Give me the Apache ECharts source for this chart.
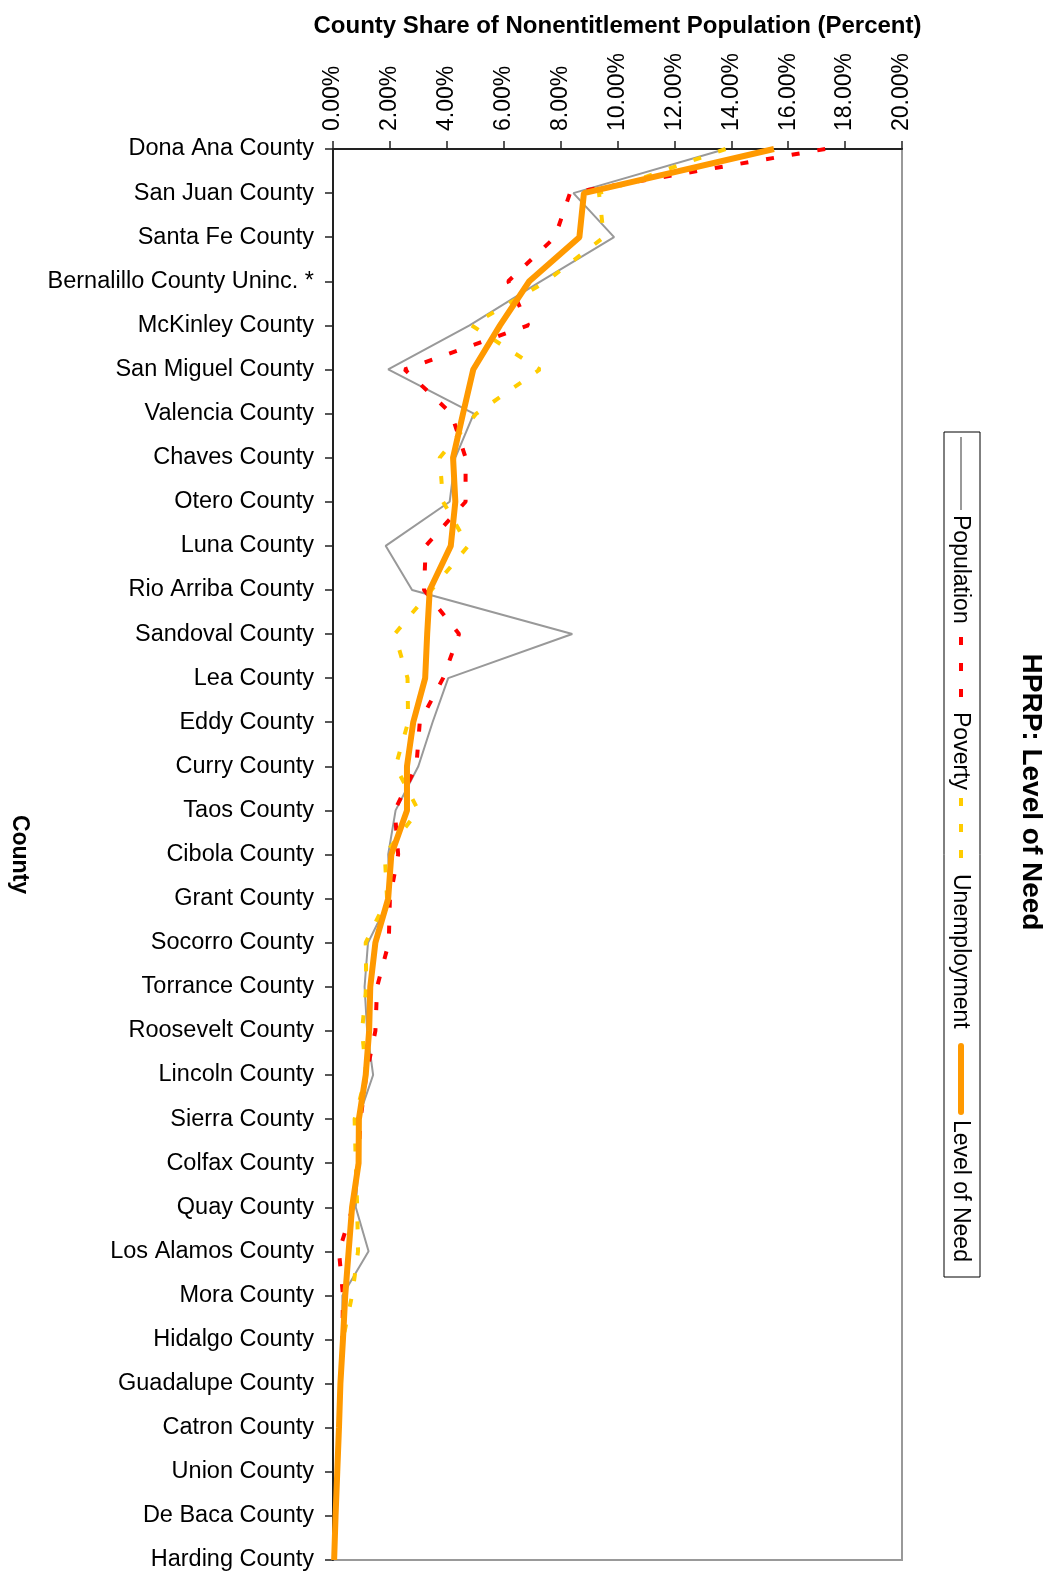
<!DOCTYPE html>
<html>
<head>
<meta charset="utf-8">
<script src="https://cdn.jsdelivr.net/npm/echarts@6/dist/echarts.min.js"></script>
<style>
html,body{margin:0;padding:0;background:#fff;}
#chart{width:1053px;height:1585px;}
</style>
</head>
<body>
<div id="chart"></div>
<script>
const counties = ["Dona Ana County","San Juan County","Santa Fe County","Bernalillo County Uninc. *","McKinley County","San Miguel County","Valencia County","Chaves County","Otero County","Luna County","Rio Arriba County","Sandoval County","Lea County","Eddy County","Curry County","Taos County","Cibola County","Grant County","Socorro County","Torrance County","Roosevelt County","Lincoln County","Sierra County","Colfax County","Quay County","Los Alamos County","Mora County","Hidalgo County","Guadalupe County","Catron County","Union County","De Baca County","Harding County"];
const population   = [13.8,8.45,9.88,7.3,4.8,1.94,4.95,4.3,4.1,1.85,2.78,8.41,4.05,3.5,3.0,2.2,1.94,2.0,1.23,1.11,1.2,1.41,0.88,0.9,0.8,1.25,0.33,0.33,0.26,0.21,0.15,0.09,0.04];
const poverty      = [17.3,8.33,7.8,6.16,6.86,2.52,4.16,4.66,4.66,3.26,3.2,4.43,3.87,3.05,2.93,2.17,2.29,2.0,1.96,1.55,1.49,1.17,0.97,0.88,0.7,0.21,0.35,0.33,0.26,0.21,0.15,0.09,0.04];
const unemployment = [13.8,9.35,9.52,7.5,4.87,7.27,5.04,3.75,3.87,4.75,3.46,2.17,2.62,2.64,2.2,3.0,1.82,1.9,1.15,1.17,1.02,1.17,0.76,0.8,0.85,0.88,0.67,0.35,0.26,0.21,0.15,0.09,0.04];
const levelOfNeed  = [15.5,8.82,8.66,6.9,5.87,4.93,4.57,4.22,4.3,4.14,3.4,3.31,3.24,2.82,2.6,2.6,2.05,1.94,1.49,1.31,1.27,1.15,0.91,0.9,0.67,0.55,0.43,0.35,0.26,0.21,0.15,0.09,0.04];
const valueTicks = [0,2,4,6,8,10,12,14,16,18,20];

const chart = echarts.init(document.getElementById('chart'), null, {renderer:'canvas'});
const FONT = 'Liberation Sans, Arial, sans-serif';
const rot = -Math.PI/2;
function mk(name, values, lineStyle, z){
  return {name:name,type:'line',data:values.map((v,j)=>[v,counties[j]]),encode:{x:0,y:1},symbol:'none',lineStyle:lineStyle,z:z};
}
chart.setOption({
  animation:false,
  backgroundColor:'#fff',
  grid:{left:333,right:151,top:149,bottom:25,containLabel:false,outerBoundsMode:'none',show:true,borderColor:'#999',borderWidth:2,backgroundColor:'transparent'},
  xAxis:{
    type:'value',position:'top',min:valueTicks[0],max:valueTicks[valueTicks.length-1],interval:2,
    name:'County Share of Nonentitlement Population (Percent)',nameLocation:'middle',nameGap:111,
    nameTextStyle:{fontFamily:FONT,fontWeight:'bold',fontSize:24,color:'#000'},
    axisLine:{show:true,lineStyle:{color:'#222',width:2}},
    axisTick:{show:true,length:8,lineStyle:{color:'#222',width:1.5}},
    axisLabel:{rotate:-90,margin:18,fontFamily:FONT,fontSize:23,color:'#000',formatter:v=>v.toFixed(2)+'%'},
    splitLine:{show:false}
  },
  yAxis:{
    type:'category',data:counties,inverse:true,boundaryGap:false,
    name:'County',nameLocation:'middle',nameRotate:-90,nameGap:302,
    nameTextStyle:{fontFamily:FONT,fontWeight:'bold',fontSize:23,color:'#000'},
    axisLine:{show:true,lineStyle:{color:'#222',width:2}},
    axisTick:{show:true,length:8,lineStyle:{color:'#222',width:1.5}},
    axisLabel:{interval:0,margin:19,fontFamily:FONT,fontSize:23.5,color:'#000'},
    splitLine:{show:false}
  },
  series:[
    mk('Population',population,{color:'#999999',width:2},2),
    mk('Poverty',poverty,{color:'#ff0000',width:4,type:[8,18]},3),
    mk('Unemployment',unemployment,{color:'#ffcc00',width:4,type:[8,18]},4),
    mk('Level of Need',levelOfNeed,{color:'#ff9900',width:6},5)
  ],
  graphic:[
    {type:'text',x:1031,y:792,rotation:rot,style:{text:'HPRP: Level of Need',font:'bold 28px '+FONT,fill:'#000',textAlign:'center',textVerticalAlign:'middle'}},
    {type:'rect',shape:{x:944,y:432,width:36,height:845},style:{fill:'none',stroke:'#000',lineWidth:1}},
    {type:'line',shape:{x1:961,y1:437,x2:961,y2:510},style:{stroke:'#999',lineWidth:2}},
    {type:'text',x:960,y:515,rotation:rot,style:{text:'Population',font:'23px '+FONT,fill:'#000',textAlign:'left',textVerticalAlign:'middle'}},
    {type:'line',shape:{x1:961,y1:637,x2:961,y2:704},style:{stroke:'#ff0000',lineWidth:4,lineDash:[8,18]}},
    {type:'text',x:960,y:712,rotation:rot,style:{text:'Poverty',font:'23px '+FONT,fill:'#000',textAlign:'left',textVerticalAlign:'middle'}},
    {type:'line',shape:{x1:961,y1:798,x2:961,y2:865},style:{stroke:'#ffcc00',lineWidth:4,lineDash:[8,18]}},
    {type:'text',x:960,y:874,rotation:rot,style:{text:'Unemployment',font:'23px '+FONT,fill:'#000',textAlign:'left',textVerticalAlign:'middle'}},
    {type:'line',shape:{x1:961,y1:1046,x2:961,y2:1112},style:{stroke:'#ff9900',lineWidth:6,lineCap:'round'}},
    {type:'text',x:960,y:1120,rotation:rot,style:{text:'Level of Need',font:'23px '+FONT,fill:'#000',textAlign:'left',textVerticalAlign:'middle'}}
  ]
});
</script>
</body>
</html>
